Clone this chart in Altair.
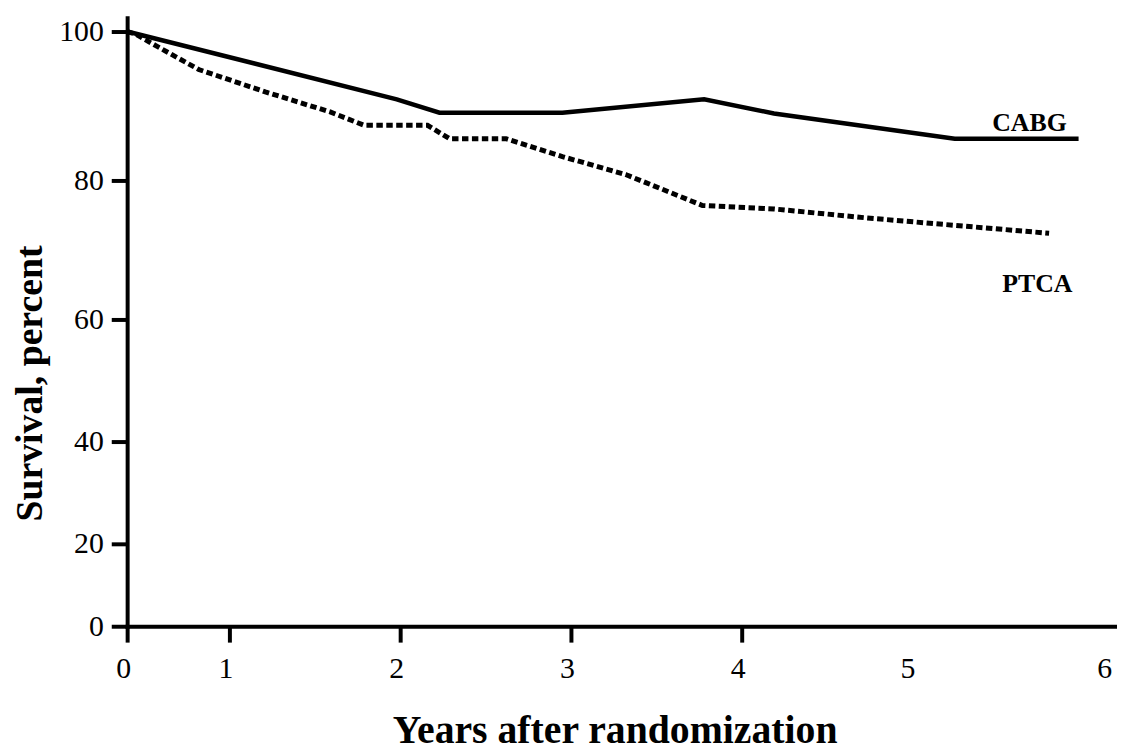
import altair as alt
import pandas as pd

# --- data ---
cabg_years = [0, 1.98, 2.23, 2.95, 3.78, 4.19, 5.22, 5.85]
cabg_surv = [100, 90.9, 89.1, 89.1, 90.9, 89.0, 85.6, 85.6]

ptca_years = [0, 0.09, 0.28, 0.70, 1.21, 1.59, 1.79, 2.16, 2.29, 2.62,
              2.95, 3.32, 3.77, 4.19, 4.74, 5.70]
ptca_surv = [100, 99.6, 98.1, 94.9, 91.9, 89.2, 87.4, 87.4, 85.6, 85.6,
             83.2, 80.8, 76.4, 75.9, 74.6, 72.4]

label_text = ["CABG", "PTCA"]
label_years = [5.60, 5.64]
label_surv = [86.7, 63.9]

x_ticks = [0, 1, 2, 3, 4, 5, 6]
y_ticks = [0, 20, 40, 60, 80, 100]

cabg_df = pd.DataFrame({"years": cabg_years, "survival": cabg_surv})
ptca_df = pd.DataFrame({"years": ptca_years, "survival": ptca_surv})
lab_df = pd.DataFrame({"years": label_years, "survival": label_surv, "label": label_text})

FONT = "Liberation Serif"
W, H = 997, 613

x_scale = alt.Scale(domain=[0, 1, 4, 5, 6, 6.04], range=[0, 103, 619, 790, 988, W],
                    nice=False, zero=False)
y_scale = alt.Scale(domain=[0, 20, 40, 60, 80, 100, 101.87],
                    range=[H, 530, 427, 304, 164, 14, 0], nice=False, zero=False)

x_axis = alt.Axis(
    values=x_ticks, title="Years after randomization", grid=False,
    domainColor="black", domainWidth=4, domainCap="square",
    tickColor="black", tickWidth=4, tickSize=16,
    tickOpacity={"condition": {"test": "datum.value > 4", "value": 0}, "value": 1},
    labelFont=FONT, labelFontSize=30, labelColor="black", labelPadding=12,
    labelFlush=False, labelOverlap=False, labelBound=False, labelOffset=-4,
    titleFont=FONT, titleFontSize=40, titleFontWeight="bold", titleColor="black",
    titleX=491, titleY=117, titleBaseline="alphabetic", titleAlign="center",
)
y_axis = alt.Axis(
    values=y_ticks, title="Survival, percent", grid=False,
    domainColor="black", domainWidth=4, domainCap="square",
    tickColor="black", tickWidth=4, tickSize=16,
    labelFont=FONT, labelFontSize=30, labelColor="black", labelPadding=8,
    labelOverlap=False, labelBound=False, labelFlush=False,
    titleFont=FONT, titleFontSize=38, titleFontWeight="bold", titleColor="black",
    titleAngle=270, titleX=-86, titleY=368, titleBaseline="alphabetic", titleAlign="center",
)

X = alt.X("years:Q", scale=x_scale, axis=x_axis)
Y = alt.Y("survival:Q", scale=y_scale, axis=y_axis)

cabg = alt.Chart(cabg_df).mark_line(color="black", strokeWidth=4.5, strokeJoin="miter").encode(x=X, y=Y)
ptca = alt.Chart(ptca_df).mark_line(color="black", strokeWidth=5, strokeDash=[6.5, 3.5],
                                    strokeCap="butt").encode(x=X, y=Y)
labels = alt.Chart(lab_df).mark_text(font=FONT, fontSize=26, fontWeight="bold", color="black",
                                     align="center", baseline="alphabetic").encode(
    x=X, y=Y, text="label:N")

chart = alt.layer(cabg, ptca, labels).properties(
    width=W, height=H,
    autosize=alt.AutoSizeParams(type="none"),
    padding={"left": 120, "top": 7, "right": 0, "bottom": 127},
    background="white",
).configure_view(stroke="transparent")

chart.save("out.html", embed_options={"renderer": "svg", "actions": False})
